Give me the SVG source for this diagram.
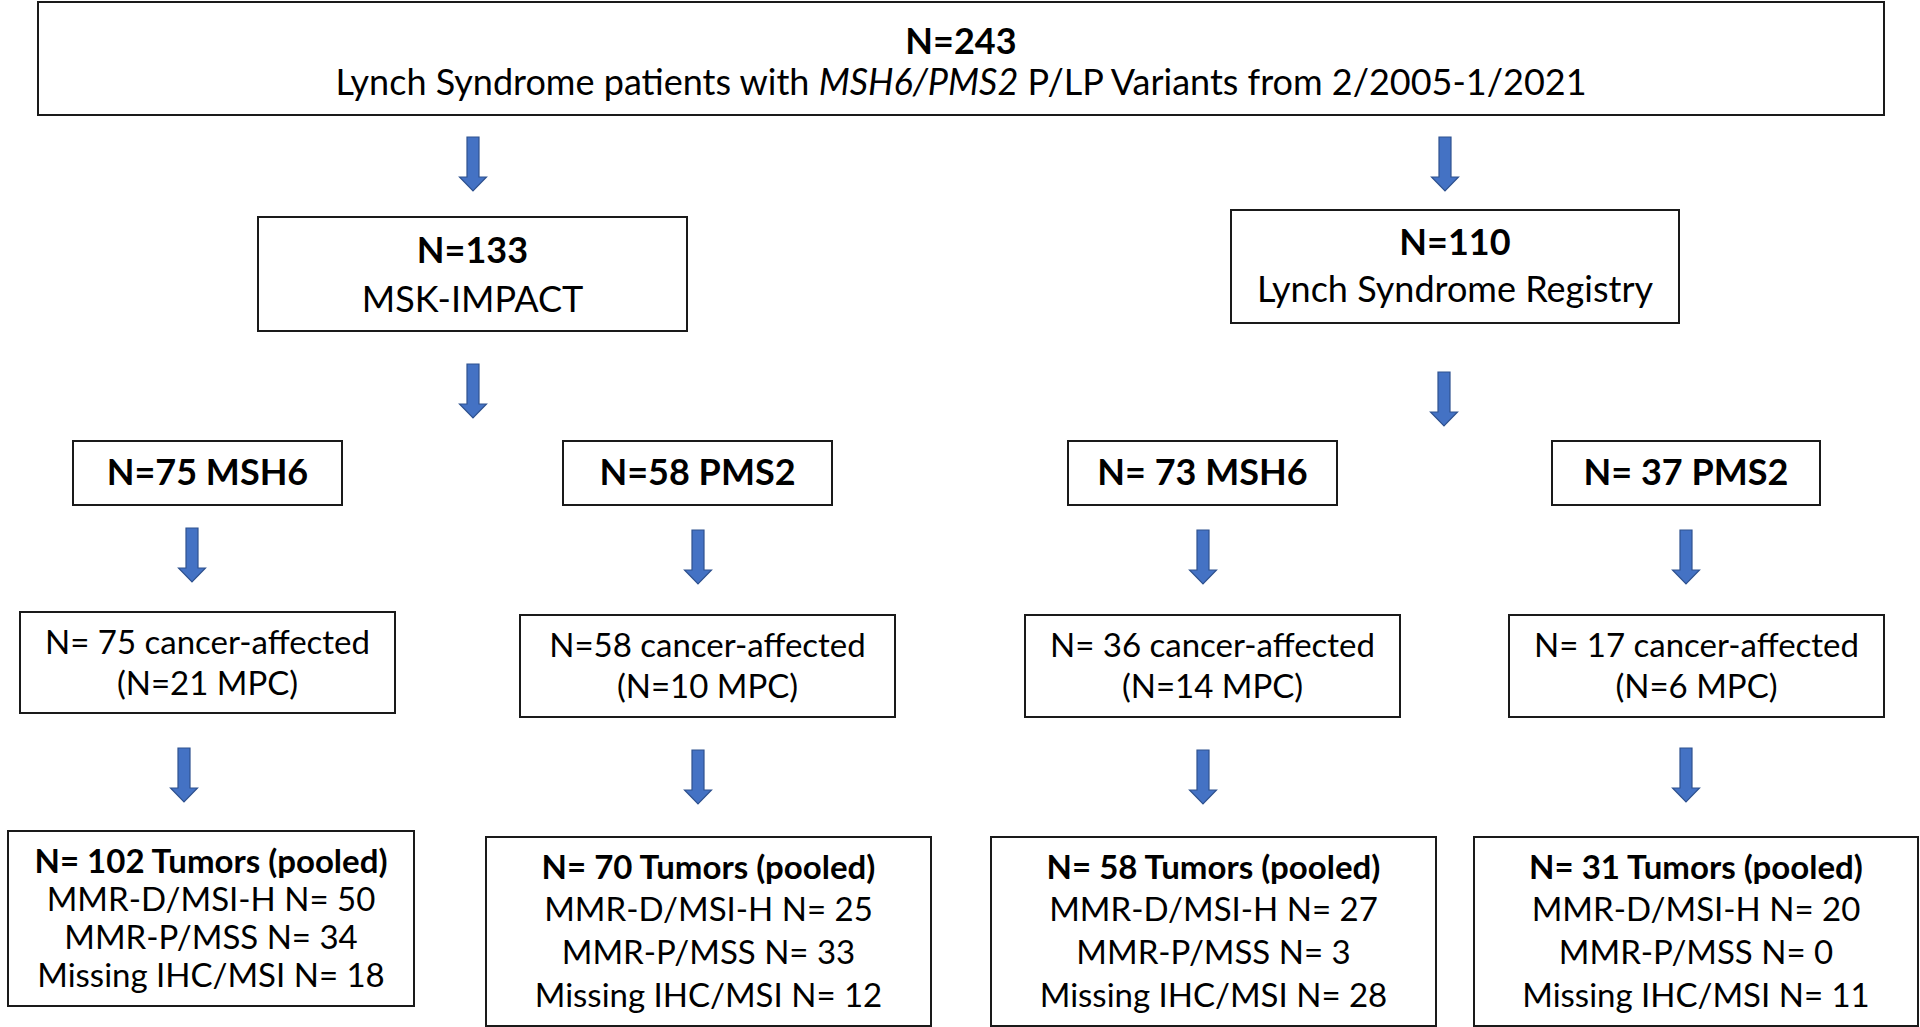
<svg xmlns="http://www.w3.org/2000/svg" xmlns:xlink="http://www.w3.org/1999/xlink" width="1920" height="1027" viewBox="0 0 1920 1027">
<style>
.box{fill:#fff;stroke:#1a1a1a;stroke-width:2}
text{font-family:Lato,"Open Sans","Liberation Sans",sans-serif;fill:#000;text-anchor:middle}
.b{font-weight:bold}
.t36{font-size:36px}
.t33{font-size:33px}
.arr{fill:#4472C4;stroke:#2F528F;stroke-width:1.2}
</style>
<defs>
<path id="arr" class="arr" d="M-6,0 H6 V40 H13.5 L0,54 L-13.5,40 H-6 Z"/>
</defs>
<rect width="1920" height="1027" fill="#fff"/>
<g id="connectors">
<use xlink:href="#arr" href="#arr" x="473" y="137"/>
<use xlink:href="#arr" href="#arr" x="1445" y="137"/>
<use xlink:href="#arr" href="#arr" x="473" y="364"/>
<use xlink:href="#arr" href="#arr" x="1444" y="372"/>
<use xlink:href="#arr" href="#arr" x="192" y="528"/>
<use xlink:href="#arr" href="#arr" x="698" y="530"/>
<use xlink:href="#arr" href="#arr" x="1203" y="530"/>
<use xlink:href="#arr" href="#arr" x="1686" y="530"/>
<use xlink:href="#arr" href="#arr" x="184" y="748"/>
<use xlink:href="#arr" href="#arr" x="698" y="750"/>
<use xlink:href="#arr" href="#arr" x="1203" y="750"/>
<use xlink:href="#arr" href="#arr" x="1686" y="748"/>
</g>
<g id="n243">
<rect class="box" x="38" y="2" width="1846" height="113"/>
<text x="961" y="54" class="b t36">N=243</text>
<text x="961" y="95" class="t36">Lynch Syndrome patients with <tspan font-style="italic">MSH6/PMS2</tspan> P/LP Variants from 2/2005-1/2021</text>
</g>
<g id="n133">
<rect class="box" x="258" y="217" width="429" height="114"/>
<text x="472.5" y="263" class="b t36">N=133</text>
<text x="472.5" y="312" class="t36">MSK-IMPACT</text>
</g>
<g id="n110">
<rect class="box" x="1231" y="210" width="448" height="113"/>
<text x="1455" y="255" class="b t36">N=110</text>
<text x="1455" y="302" class="t36">Lynch Syndrome Registry</text>
</g>
<g id="n75msh6">
<rect class="box" x="73" y="441" width="269" height="64"/>
<text x="207.5" y="485" class="b t36">N=75 MSH6</text>
</g>
<g id="n58pms2">
<rect class="box" x="563" y="441" width="269" height="64"/>
<text x="697.5" y="485" class="b t36">N=58 PMS2</text>
</g>
<g id="n73msh6">
<rect class="box" x="1068" y="441" width="269" height="64"/>
<text x="1202.5" y="485" class="b t36">N= 73 MSH6</text>
</g>
<g id="n37pms2">
<rect class="box" x="1552" y="441" width="268" height="64"/>
<text x="1686" y="485" class="b t36">N= 37 PMS2</text>
</g>
<g id="c75">
<rect class="box" x="20" y="612" width="375" height="101"/>
<text x="207.5" y="654" class="t33">N= 75 cancer-affected</text>
<text x="207.5" y="695" class="t33">(N=21 MPC)</text>
</g>
<g id="c58">
<rect class="box" x="520" y="615" width="375" height="102"/>
<text x="707.5" y="657" class="t33">N=58 cancer-affected</text>
<text x="707.5" y="698" class="t33">(N=10 MPC)</text>
</g>
<g id="c36">
<rect class="box" x="1025" y="615" width="375" height="102"/>
<text x="1212.5" y="657" class="t33">N= 36 cancer-affected</text>
<text x="1212.5" y="698" class="t33">(N=14 MPC)</text>
</g>
<g id="c17">
<rect class="box" x="1509" y="615" width="375" height="102"/>
<text x="1696.5" y="657" class="t33">N= 17 cancer-affected</text>
<text x="1696.5" y="698" class="t33">(N=6 MPC)</text>
</g>
<g id="t102">
<rect class="box" x="8" y="831" width="406" height="175"/>
<text x="211" y="873" class="b t33">N= 102 Tumors (pooled)</text>
<text x="211" y="911" class="t33">MMR-D/MSI-H N= 50</text>
<text x="211" y="949" class="t33">MMR-P/MSS N= 34</text>
<text x="211" y="987" class="t33">Missing IHC/MSI N= 18</text>
</g>
<g id="t70">
<rect class="box" x="486" y="837" width="445" height="189"/>
<text x="708.5" y="879" class="b t33">N= 70 Tumors (pooled)</text>
<text x="708.5" y="921" class="t33">MMR-D/MSI-H N= 25</text>
<text x="708.5" y="964" class="t33">MMR-P/MSS N= 33</text>
<text x="708.5" y="1007" class="t33">Missing IHC/MSI N= 12</text>
</g>
<g id="t58">
<rect class="box" x="991" y="837" width="445" height="189"/>
<text x="1213.5" y="879" class="b t33">N= 58 Tumors (pooled)</text>
<text x="1213.5" y="921" class="t33">MMR-D/MSI-H N= 27</text>
<text x="1213.5" y="964" class="t33">MMR-P/MSS N= 3</text>
<text x="1213.5" y="1007" class="t33">Missing IHC/MSI N= 28</text>
</g>
<g id="t31">
<rect class="box" x="1474" y="837" width="444" height="189"/>
<text x="1696" y="879" class="b t33">N= 31 Tumors (pooled)</text>
<text x="1696" y="921" class="t33">MMR-D/MSI-H N= 20</text>
<text x="1696" y="964" class="t33">MMR-P/MSS N= 0</text>
<text x="1696" y="1007" class="t33">Missing IHC/MSI N= 11</text>
</g>
</svg>
